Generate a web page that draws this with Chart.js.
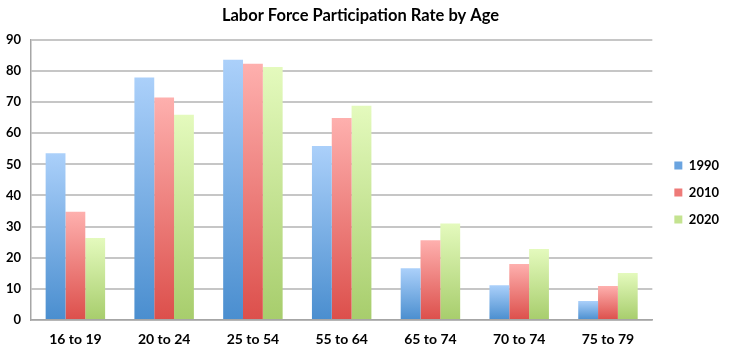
<!DOCTYPE html>
<html>
<head>
<meta charset="utf-8">
<script src="https://cdn.jsdelivr.net/npm/chart.js@4/dist/chart.umd.min.js"></script>
<style>
  html, body { margin: 0; padding: 0; background: #fff; }
  #wrap { width: 731px; height: 353px; }
</style>
</head>
<body>
<div id="wrap"><canvas id="barchart"></canvas></div>
<script>
const ageGroups = ["16 to 19", "20 to 24", "25 to 54", "55 to 64", "65 to 74", "70 to 74", "75 to 79"];
const rate1990 = [53.6, 77.9, 83.6, 55.9, 16.6, 11.2, 6.1];
const rate2010 = [34.8, 71.5, 82.3, 64.9, 25.6, 18.0, 10.9];
const rate2020 = [26.3, 65.9, 81.3, 68.8, 31.0, 22.8, 15.1];
const yTicks = [0, 10, 20, 30, 40, 50, 60, 70, 80, 90];

const FONT = "Lato, 'Open Sans', sans-serif";

// light top, darker bottom, like the Excel gradient fill
function barFill(top, bottom, solid) {
  return function (ctx) {
    const chart = ctx.chart;
    const y = chart.scales.y;
    if (!chart.chartArea || !y || ctx.type !== "data") return solid;
    const y0 = y.getPixelForValue(0);
    const y1 = y.getPixelForValue(ctx.raw);
    if (!isFinite(y0) || !isFinite(y1) || y0 === y1) return solid;
    const g = chart.ctx.createLinearGradient(0, y1, 0, y0);
    g.addColorStop(0, top);
    g.addColorStop(1, bottom);
    return g;
  };
}

// nudge the legend a bit right and down, where the original sits
const legendNudge = {
  id: "legendNudge",
  afterLayout(chart) {
    const l = chart.legend;
    if (!l) return;
    l.left += 8; l.right += 8;
    l.top += 16; l.bottom += 16;
  },
};

new Chart(document.getElementById("barchart"), {
  type: "bar",
  data: {
    labels: ageGroups,
    datasets: [
      { label: "1990", data: rate1990, backgroundColor: barFill("#abd0fa", "#4a8ecf", "#6fa8e4"), legendColor: "#6aa4e0" },
      { label: "2010", data: rate2010, backgroundColor: barFill("#feb0ae", "#dc4f4b", "#ef8080"), legendColor: "#ee7a78" },
      { label: "2020", data: rate2020, backgroundColor: barFill("#e4fabd", "#a7cd6c", "#c6e594"), legendColor: "#c4e390" },
    ],
  },
  plugins: [legendNudge],
  options: {
    responsive: true,
    maintainAspectRatio: false,
    animation: false,
    datasets: {
      bar: { barPercentage: 1.0, categoryPercentage: 0.67, borderWidth: 0 },
    },
    layout: { padding: { left: 0, right: 10, top: 0, bottom: 0 } },
    plugins: {
      title: {
        display: true,
        text: "Labor Force Participation Rate by Age",
        color: "#000",
        font: { family: FONT, size: 16.5, weight: "bold" },
        padding: { top: 6, bottom: 14 },
      },
      legend: {
        position: "right",
        labels: {
          color: "#000",
          font: { family: FONT, size: 13, weight: "bold" },
          boxWidth: 8,
          boxHeight: 8,
          padding: 14,
          generateLabels(chart) {
            return chart.data.datasets.map((ds, i) => ({
              text: ds.label,
              fillStyle: ds.legendColor,
              strokeStyle: ds.legendColor,
              lineWidth: 0,
              datasetIndex: i,
              fontColor: "#000",
            }));
          },
        },
      },
      tooltip: { enabled: false },
    },
    scales: {
      x: {
        grid: { display: false, drawTicks: false },
        border: { color: "#a6a6a6", width: 1.5 },
        ticks: {
          color: "#000",
          font: { family: FONT, size: 14, weight: "bold" },
          padding: 11,
        },
        afterFit(scale) { scale.height = 33; },
      },
      y: {
        min: 0,
        max: 90,
        afterBuildTicks(scale) { scale.ticks = yTicks.map(v => ({ value: v })); },
        grid: { color: "#c6c6c6", lineWidth: 2, drawTicks: false },
        border: { color: "#a6a6a6", width: 1.5 },
        ticks: {
          color: "#000",
          font: { family: FONT, size: 13, weight: "bold" },
          padding: 10,
        },
        afterFit(scale) { scale.width = 31; },
      },
    },
  },
});
</script>
</body>
</html>
